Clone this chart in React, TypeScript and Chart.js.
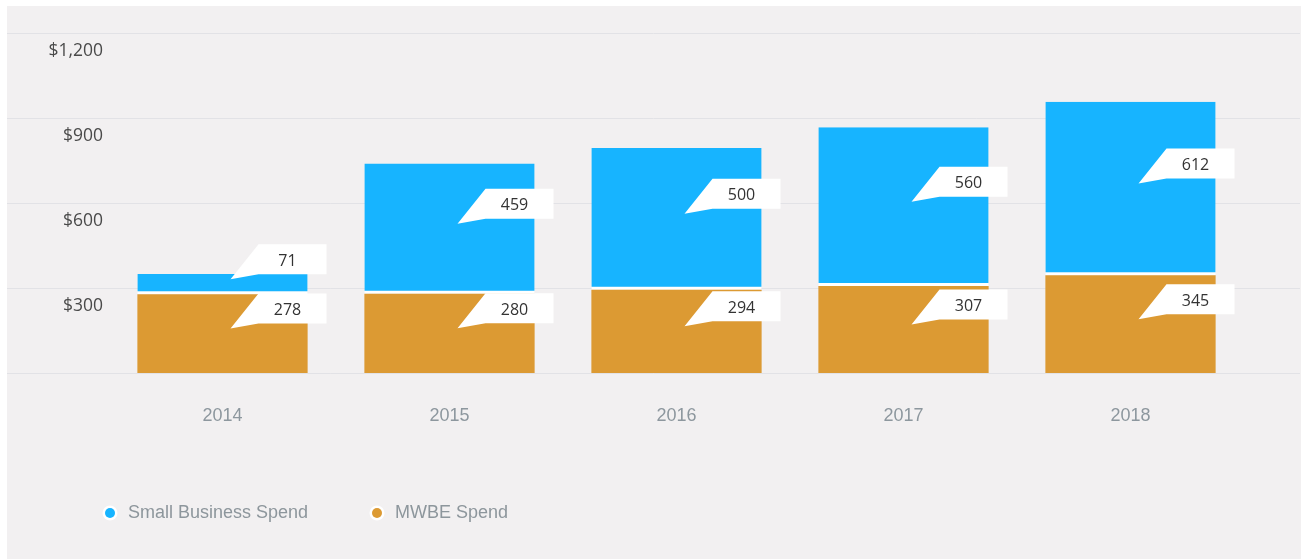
import React, { useEffect, useRef } from 'react';
import { Chart, registerables } from 'chart.js';

Chart.register(...registerables);

const years = ['2014', '2015', '2016', '2017', '2018'];
const mwbeSpend = [278, 280, 294, 307, 345];
const smallBusinessSpend = [71, 459, 500, 560, 612];
const yTickValues = [300, 600, 900, 1200];
const gridValues = [0, 300, 600, 900, 1200];
const seriesNames = ['MWBE Spend', 'Small Business Spend'];

const BLUE = '#17b4ff';
const ORANGE = '#dc9a33';
const BG = '#f2f0f1';

const fmtMoney = (v: number) => '$' + v.toLocaleString('en-US');

const decorPlugin = {
  id: 'decor',
  beforeDraw(chart: any) {
    const ctx = chart.ctx;
    const y = chart.scales.y;
    ctx.save();
    ctx.fillStyle = '#ffffff';
    ctx.fillRect(0, 0, chart.width, chart.height);
    ctx.fillStyle = BG;
    ctx.fillRect(7, 6, 1294, chart.height - 6);
    ctx.strokeStyle = '#e2e2e6';
    ctx.lineWidth = 1;
    gridValues.forEach((v) => {
      const py = Math.round(y.getPixelForValue(v)) + 0.5;
      ctx.beginPath();
      ctx.moveTo(7, py);
      ctx.lineTo(1300, py);
      ctx.stroke();
    });
    ctx.fillStyle = '#4a4a4a';
    ctx.font = '17.5px "Open Sans"';
    ctx.textAlign = 'right';
    ctx.textBaseline = 'middle';
    yTickValues.forEach((v) => {
      const py = y.getPixelForValue(v);
      ctx.fillText(fmtMoney(v), 103, py + 18.5);
    });
    ctx.restore();
  },
  afterDatasetsDraw(chart: any) {
    const ctx = chart.ctx;
    ctx.save();
    chart.data.datasets.forEach((ds: any, di: number) => {
      const meta = chart.getDatasetMeta(di);
      meta.data.forEach((el: any, i: number) => {
        const cy = (el.y + el.base) / 2;
        const tipX = el.x + 8;
        const tipY = cy - 5;
        const left = tipX + 28;
        const right = tipX + 96;
        const top = tipY - 35;
        const bottom = tipY - 5;
        ctx.fillStyle = '#ffffff';
        ctx.beginPath();
        ctx.moveTo(left, top);
        ctx.lineTo(right, top);
        ctx.lineTo(right, bottom);
        ctx.lineTo(left, bottom);
        ctx.lineTo(tipX, tipY);
        ctx.closePath();
        ctx.fill();
        ctx.fillStyle = '#333333';
        ctx.font = '16px "Open Sans"';
        ctx.textAlign = 'center';
        ctx.textBaseline = 'middle';
        ctx.fillText(String(ds.data[i]), tipX + 57, tipY - 18);
      });
    });
    ctx.restore();
  },
  afterDraw(chart: any) {
    const ctx = chart.ctx;
    const x = chart.scales.x;
    ctx.save();
    ctx.fillStyle = '#8d979e';
    ctx.font = '18px "Liberation Sans"';
    ctx.textAlign = 'center';
    ctx.textBaseline = 'middle';
    chart.data.labels.forEach((lab: string, i: number) => {
      ctx.fillText(lab, x.getPixelForValue(i), 416);
    });
    // legend (blue first, then orange)
    const items = [
      { ds: chart.data.datasets[1], cx: 110 },
      { ds: chart.data.datasets[0], cx: 377 },
    ];
    items.forEach((it) => {
      ctx.beginPath();
      ctx.arc(it.cx, 513, 7.5, 0, Math.PI * 2);
      ctx.fillStyle = '#ffffff';
      ctx.fill();
      ctx.beginPath();
      ctx.arc(it.cx, 513, 5, 0, Math.PI * 2);
      ctx.fillStyle = it.ds.backgroundColor;
      ctx.fill();
      ctx.fillStyle = '#8d969c';
      ctx.font = '18px "Liberation Sans"';
      ctx.textAlign = 'left';
      ctx.textBaseline = 'middle';
      ctx.fillText(it.ds.label, it.cx + 18, 513);
    });
    ctx.restore();
  },
};

export default function App() {
  const ref = useRef<HTMLCanvasElement | null>(null);
  useEffect(() => {
    document.body.style.margin = '0';
    const canvas = ref.current;
    if (!canvas) return;
    const chart = new Chart(canvas, {
      type: 'bar',
      data: {
        labels: years,
        datasets: [
          {
            label: seriesNames[0],
            data: mwbeSpend,
            backgroundColor: ORANGE,
            borderWidth: 0,
            barPercentage: 0.75,
            categoryPercentage: 1,
          },
          {
            label: seriesNames[1],
            data: smallBusinessSpend,
            backgroundColor: BLUE,
            borderColor: '#ffffff',
            borderWidth: { top: 0, left: 0, right: 0, bottom: 3 },
            borderSkipped: false,
            barPercentage: 0.75,
            categoryPercentage: 1,
          },
        ],
      },
      options: {
        responsive: false,
        animation: false,
        devicePixelRatio: 1,
        layout: { padding: { left: 109, right: 59, top: 33, bottom: 186 } },
        plugins: { legend: { display: false }, tooltip: { enabled: false } },
        scales: {
          x: { display: false, stacked: true, offset: true },
          y: { display: false, stacked: true, min: 0, max: 1200 },
        },
      },
      plugins: [decorPlugin],
    } as any);
    return () => chart.destroy();
  }, []);
  return (
    <canvas
      ref={ref}
      width={1303}
      height={559}
      style={{ display: 'block', width: '1303px', height: '559px' }}
    />
  );
}
